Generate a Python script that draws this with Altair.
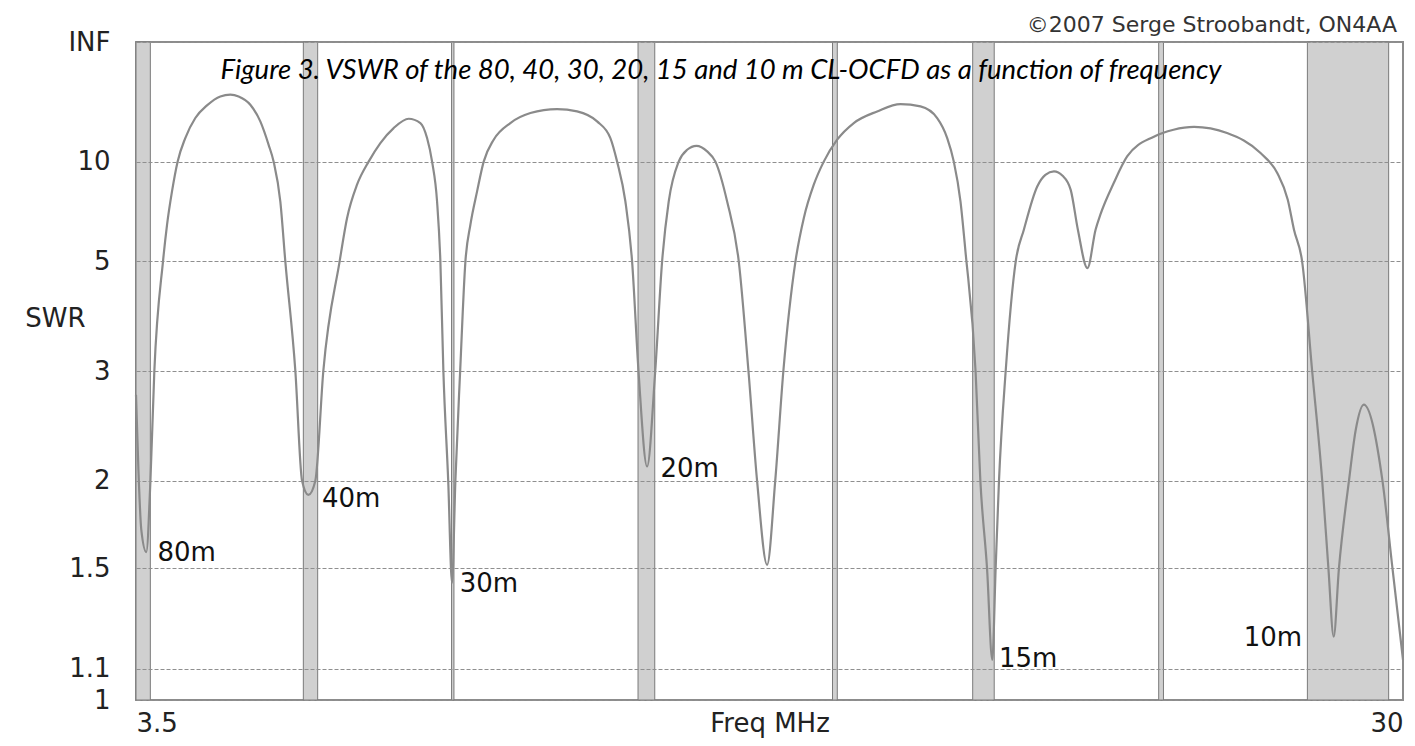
import altair as alt
import pandas as pd

# ---- data (frequency in MHz, SWR) ----
freq = [3.5, 3.55, 3.61, 3.715, 3.80, 3.883,
        4.065, 4.149, 4.253, 4.370, 4.531, 4.741, 4.985, 5.264, 5.473, 5.646,
        5.891, 6.100, 6.274, 6.379, 6.519, 6.623,
        6.833, 6.973, 7.105, 7.251, 7.418,
        7.759, 7.914, 8.123, 8.366, 8.611, 8.889, 9.203, 9.448, 9.588, 9.693,
        9.797, 9.866,
        9.929, 10.03, 10.11, 10.18, 10.28, 10.39,
        10.494, 10.634, 10.772, 10.981, 11.330, 11.749, 12.307, 12.726, 13.144,
        13.422, 13.563, 13.736, 13.876,
        14.01, 14.19, 14.36,
        14.504, 14.642, 14.851, 15.027, 15.222, 15.446, 15.619, 15.864, 16.107,
        16.31, 16.49, 16.70, 16.87, 17.04,
        17.293, 17.467, 17.676, 17.885, 18.165, 18.513, 19.002, 19.490, 19.908,
        20.257, 20.467, 20.605, 20.745, 20.849,
        21.06, 21.16, 21.30, 21.41, 21.48, 21.55, 21.69, 21.90,
        22.07, 22.35, 22.52, 22.70, 22.88, 23.05, 23.2, 23.40, 23.57, 23.67,
        23.95, 24.23, 24.79, 25.2, 25.63, 26.32, 27.02, 27.37, 27.59, 27.72,
        27.89, 28.10, 28.31, 28.44, 28.55, 28.66, 28.87, 29.01, 29.18,
        29.57, 29.78, 30.0]
swr = [2.73, 2.08, 1.70, 1.58, 1.985, 2.99,
       5.0, 6.20, 7.81, 10.0, 12.70, 16.31, 19.75, 23.18, 23.97, 23.18,
       19.98, 15.57, 11.80, 10.0, 7.25, 5.0,
       3.0, 2.0, 1.906, 2.0, 3.0,
       5.0, 6.47, 8.22, 10.0, 12.02, 14.29, 16.15, 15.24, 12.70, 10.0,
       7.25, 5.0,
       3.0, 2.0, 1.433, 2.0, 3.0, 5.0,
       6.20, 7.81, 10.0, 12.47, 15.24, 17.52, 18.63, 17.96, 15.57,
       12.70, 10.0, 7.25, 5.0,
       3.0, 2.10, 3.0,
       5.0, 7.25, 10.0, 11.21, 11.68, 11.03, 10.0, 7.25, 5.0,
       3.0, 2.0, 1.517, 2.0, 3.0,
       5.0, 6.47, 8.22, 10.0, 12.47, 15.24, 17.96, 20.21, 19.43,
       16.31, 12.70, 10.0, 7.25, 5.28,
       3.0, 2.0, 1.5, 1.13, 1.5, 2.0, 3.0, 5.0,
       6.01, 8.11, 8.91, 9.17, 8.84, 7.90, 6.01, 4.82, 6.01, 6.62,
       8.33, 10.5, 12.9, 14.0, 14.5, 13.45, 10.85, 9.04, 7.34, 6.01,
       5.0, 3.0, 2.0, 1.5, 1.213, 1.5, 2.0, 2.39, 2.63,
       2.0, 1.5, 1.13]

band_lo = [3.5, 7.0, 10.1, 14.0, 18.068, 21.0, 24.89, 28.0]
band_hi = [3.8, 7.3, 10.15, 14.35, 18.168, 21.45, 24.99, 29.7]

label_text = ["80m", "40m", "30m", "20m", "15m", "10m"]
label_freq = [3.95, 7.39, 10.27, 14.47, 21.55, 27.89]
label_swr = [1.537, 1.832, 1.394, 2.026, 1.107, 1.179]
label_align = ["left", "left", "left", "left", "left", "right"]

y_tick_swr = [1, 1.1, 1.5, 2, 3, 5, 10, float("inf")]
y_tick_labels = ["1", "1.1", "1.5", "2", "3", "5", "10", "INF"]
x_tick_values = [3.5, 30]
x_tick_labels = ["3.5", "30"]

title_text = "Figure 3. VSWR of the 80, 40, 30, 20, 15 and 10 m CL-OCFD as a function of frequency"
copyright_text = "\u00a92007 Serge Stroobandt, ON4AA"


def to_rho(s):
    if s == float("inf"):
        return 1.0
    return (s - 1.0) / (s + 1.0)


curve = pd.DataFrame({"freq": freq, "swr": swr})
curve["rho"] = [to_rho(s) for s in swr]
bands = pd.DataFrame({"lo": band_lo, "hi": band_hi})
labels = pd.DataFrame({"text": label_text, "freq": label_freq,
                       "rho": [to_rho(s) for s in label_swr], "align": label_align})

y_tick_rho = [to_rho(s) for s in y_tick_swr]
y_expr = " : ".join(f"abs(datum.value - {r:.6f}) < 0.001 ? '{l}'"
                    for r, l in zip(y_tick_rho, y_tick_labels)) + " : ''"
x_expr = " : ".join(f"abs(datum.value - {v}) < 0.001 ? '{l}'"
                    for v, l in zip(x_tick_values, x_tick_labels)) + " : ''"

W, H = 1267, 658
FONT = "DejaVu Sans"

xscale = alt.Scale(domain=[3.5, 30], nice=False, zero=False)
yscale = alt.Scale(domain=[0, 1], nice=False, zero=False)

xaxis = alt.Axis(values=x_tick_values, labelExpr=x_expr, labelFlush=True,
                 grid=False, ticks=False, domain=False,
                 labelFont=FONT, labelFontSize=26, labelColor="#222",
                 labelPadding=10, labelBaseline="top",
                 title="Freq MHz", titleFont=FONT, titleFontSize=26,
                 titleFontWeight="normal", titleColor="#222",
                 titleX=W / 2, titleY=31, titleAlign="center",
                 titleBaseline="alphabetic")
yaxis = alt.Axis(values=y_tick_rho, labelExpr=y_expr,
                 grid=True, gridColor="#8f8f8f", gridDash=[4, 2], gridWidth=1,
                 ticks=False, domain=False, zindex=1,
                 labelFont=FONT, labelFontSize=26, labelColor="#222",
                 labelPadding=26, labelBaseline="middle",
                 title="SWR", titleFont=FONT, titleFontSize=26,
                 titleFontWeight="normal", titleColor="#222", titleAngle=0,
                 titleX=-81, titleY=276, titleAlign="center",
                 titleBaseline="middle")

band_layer = alt.Chart(bands).mark_rect(
    fill="#d0d0d0", stroke="#7a7a7a", strokeWidth=1
).encode(
    x=alt.X("lo:Q", scale=xscale, axis=xaxis),
    x2="hi:Q",
    y=alt.Y("y0:Q", scale=yscale, axis=yaxis),
    y2="y1:Q",
).transform_calculate(y0="0", y1="1")

line_layer = alt.Chart(curve).mark_line(
    color="#8a8a8a", strokeWidth=2.2, interpolate="monotone"
).encode(
    x=alt.X("freq:Q", scale=xscale),
    y=alt.Y("rho:Q", scale=yscale),
    order="freq:Q",
)

lab_left = alt.Chart(labels).transform_filter("datum.align == 'left'").mark_text(
    align="left", baseline="alphabetic", font=FONT, fontSize=26, color="#111"
).encode(x=alt.X("freq:Q", scale=xscale), y=alt.Y("rho:Q", scale=yscale), text="text:N")

lab_right = alt.Chart(labels).transform_filter("datum.align == 'right'").mark_text(
    align="right", baseline="alphabetic", font=FONT, fontSize=26, color="#111"
).encode(x=alt.X("freq:Q", scale=xscale), y=alt.Y("rho:Q", scale=yscale), text="text:N")

title_layer = alt.Chart(pd.DataFrame({"t": [title_text]})).mark_text(
    align="center", baseline="alphabetic", font="Lato", fontStyle="italic",
    fontSize=27.5, color="#000"
).encode(x=alt.value(585), y=alt.value(37), text="t:N")

copy_layer = alt.Chart(pd.DataFrame({"t": [copyright_text]})).mark_text(
    align="right", baseline="alphabetic", font=FONT, fontSize=22, color="#333"
).encode(x=alt.value(1261), y=alt.value(-10), text="t:N")

chart = alt.layer(band_layer, line_layer, lab_left, lab_right, title_layer, copy_layer).properties(
    width=W, height=H,
    padding={"left": 128, "top": 34, "right": 4, "bottom": 38},
    autosize=alt.AutoSizeParams(type="none"),
    background="white",
).configure_view(stroke="#8c8c8c", strokeWidth=2)

chart.save("out.html", embed_options={"renderer": "svg", "actions": False})
